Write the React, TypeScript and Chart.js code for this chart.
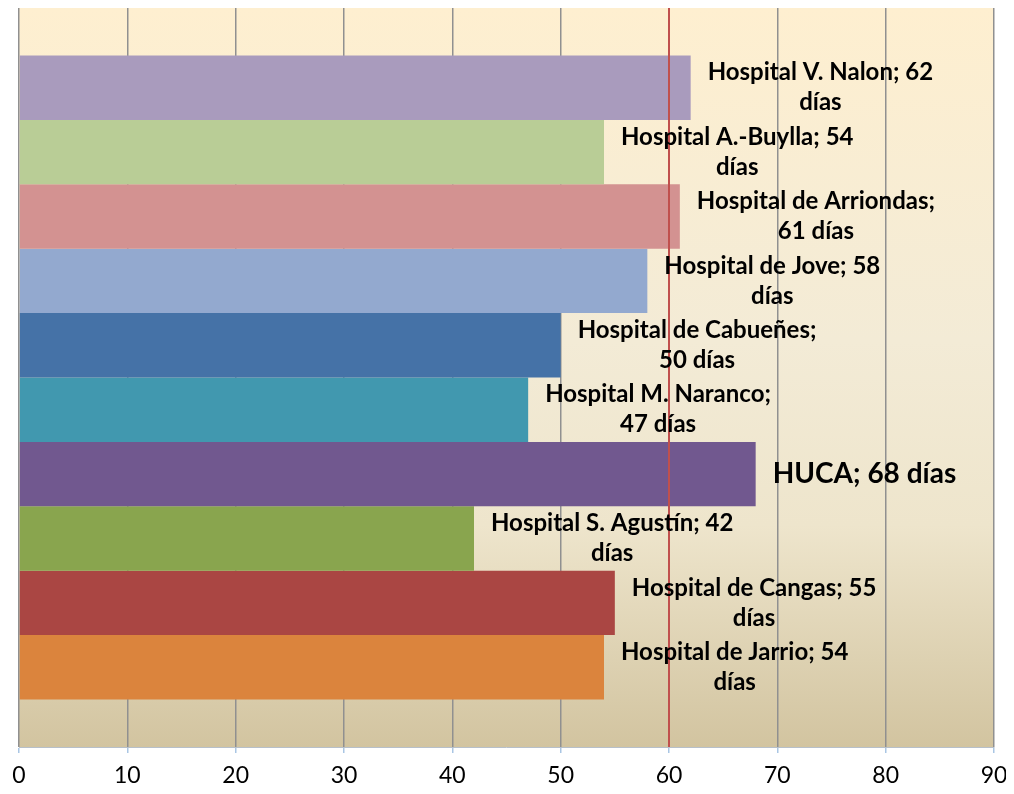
import React, { useEffect, useRef } from "react";
import { Chart, registerables } from "chart.js";

Chart.register(...registerables);

const hospitals = [
  "Hospital V. Nalon",
  "Hospital A.-Buylla",
  "Hospital de Arriondas",
  "Hospital de Jove",
  "Hospital de Cabueñes",
  "Hospital M. Naranco",
  "HUCA",
  "Hospital S. Agustín",
  "Hospital de Cangas",
  "Hospital de Jarrio",
];
const days = [62, 54, 61, 58, 50, 47, 68, 42, 55, 54];
const colors = [
  "#A99BBD",
  "#B9CD96",
  "#D39291",
  "#93A9CF",
  "#4572A7",
  "#4198AF",
  "#71588F",
  "#89A54E",
  "#AA4643",
  "#DB843D",
];
const xTicks = [0, 10, 20, 30, 40, 50, 60, 70, 80, 90];
const referenceDays = 60;
const highlighted = "HUCA";
const unit = "días";

function wrap(ctx: CanvasRenderingContext2D, text: string, maxW: number): string[] {
  const words = text.split(" ");
  const lines: string[] = [];
  let cur = "";
  for (const w of words) {
    const test = cur ? cur + " " + w : w;
    if (ctx.measureText(test).width > maxW && cur) {
      lines.push(cur);
      cur = w;
    } else {
      cur = test;
    }
  }
  if (cur) lines.push(cur);
  return lines;
}

export default function App() {
  const ref = useRef<HTMLCanvasElement>(null);

  useEffect(() => {
    if (!ref.current) return;

    const bgPlugin = {
      id: "bgGradient",
      beforeDraw(chart: any) {
        const { ctx, chartArea } = chart;
        if (!chartArea) return;
        const g = ctx.createLinearGradient(0, chartArea.top, 0, chartArea.bottom);
        g.addColorStop(0, "#FEEFD0");
        g.addColorStop(0.45, "#F3EBD6");
        g.addColorStop(0.7, "#EEE5CC");
        g.addColorStop(1, "#D2C4A0");
        ctx.save();
        ctx.fillStyle = g;
        ctx.fillRect(chartArea.left, chartArea.top, chartArea.right - chartArea.left, chartArea.bottom - chartArea.top);
        ctx.restore();
      },
    };

    const overlayPlugin = {
      id: "overlay",
      afterDatasetsDraw(chart: any) {
        const { ctx, chartArea, scales } = chart;
        const x = scales.x;
        const rx = x.getPixelForValue(referenceDays);
        ctx.save();
        ctx.strokeStyle = "#C0504D";
        ctx.lineWidth = 2;
        ctx.beginPath();
        ctx.moveTo(rx, chartArea.top);
        ctx.lineTo(rx, chartArea.bottom);
        ctx.stroke();

        ctx.fillStyle = "#000";
        ctx.textBaseline = "middle";
        ctx.textAlign = "center";
        chart.data.datasets.forEach((ds: any, i: number) => {
          const el = chart.getDatasetMeta(i).data[0];
          if (!el) return;
          const big = hospitals[i] === highlighted;
          const size = big ? 28 : 24;
          ctx.font = `bold ${size}px Lato`;
          const text = `${hospitals[i]}; ${days[i]} ${unit}`;
          const lines = big ? [text] : wrap(ctx, text, 246);
          const boxW = Math.max(...lines.map((l) => ctx.measureText(l).width));
          const cx = el.x + 17 + boxW / 2;
          const lh = 30;
          const y0 = el.y - ((lines.length - 1) * lh) / 2;
          lines.forEach((l, k) => ctx.fillText(l, cx, y0 + k * lh));
        });
        ctx.restore();
      },
    };

    const chart = new Chart(ref.current, {
      type: "bar",
      data: {
        labels: [""],
        datasets: hospitals.map((h, i) => ({
          label: h,
          data: [days[i]],
          backgroundColor: colors[i],
          borderWidth: 0,
          barPercentage: 1,
          categoryPercentage: 0.8714,
        })),
      },
      options: {
        indexAxis: "y",
        animation: false,
        responsive: false,
        maintainAspectRatio: false,
        layout: { padding: { left: 0, right: 20, top: 8, bottom: 0 } },
        plugins: {
          legend: { display: false },
          tooltip: { enabled: false },
        },
        scales: {
          x: {
            min: xTicks[0],
            max: xTicks[xTicks.length - 1],
            afterBuildTicks: (s: any) => {
              s.ticks = xTicks.map((v) => ({ value: v }));
            },
            afterFit: (s: any) => {
              s.height = 47;
              s.paddingLeft = 0;
              s.paddingRight = 0;
            },
            ticks: {
              font: { family: "Lato", size: 23 },
              color: "#000",
              padding: 9,
              maxRotation: 0,
              autoSkip: false,
            },
            grid: {
              color: "#909090",
              lineWidth: 1.5,
              tickColor: "#A9C6E4",
              tickLength: 6,
            },
            border: { display: true, color: "#B7C0CA", width: 1 },
          },
          y: {
            type: "category",
            afterFit: (s: any) => {
              s.width = 19;
            },
            ticks: { display: false },
            grid: { display: false },
            border: { display: false },
          },
        },
      } as any,
      plugins: [bgPlugin, overlayPlugin],
    });

    return () => chart.destroy();
  }, []);

  return (
    <div style={{ margin: -8, width: 1014, height: 794, overflow: "hidden" }}>
      <canvas ref={ref} width={1014} height={794} style={{ display: "block" }} />
    </div>
  );
}
